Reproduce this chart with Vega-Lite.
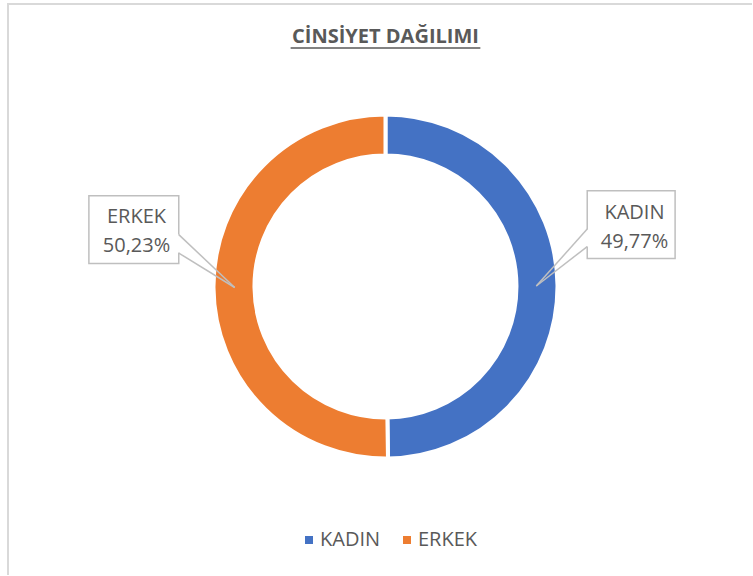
{
  "$schema": "https://vega.github.io/schema/vega-lite/v6.json",
  "width": 753,
  "height": 576,
  "autosize": {"type": "fit", "contains": "padding"},
  "padding": 0,
  "background": "white",
  "config": {
    "view": {"stroke": null},
    "font": "Open Sans",
    "locale": {"number": {"decimal": ",", "thousands": ".", "grouping": [3], "currency": ["₺", ""]}}
  },
  "data": {"values": [
    {"kategori": "KADIN", "oran": 0.4977},
    {"kategori": "ERKEK", "oran": 0.5023}
  ]},
  "layer": [
    {
      "transform": [{"filter": "datum.kategori === 'KADIN'"}],
      "mark": {"type": "rule", "color": "#D9D9D9", "strokeWidth": 2},
      "encoding": {
        "x": {"datum": 8, "type": "quantitative", "scale": {"domain": [0, 753], "zero": false, "nice": false}, "axis": null},
        "y": {"datum": 4, "type": "quantitative", "scale": {"domain": [0, 576], "zero": false, "nice": false, "reverse": true}, "axis": null},
        "y2": {"datum": 576}
      }
    },
    {
      "transform": [{"filter": "datum.kategori === 'KADIN'"}],
      "mark": {"type": "rule", "color": "#D9D9D9", "strokeWidth": 2},
      "encoding": {
        "x": {"datum": 7, "type": "quantitative"},
        "x2": {"datum": 753},
        "y": {"datum": 4, "type": "quantitative"}
      }
    },
    {
      "transform": [{"filter": "datum.kategori === 'KADIN'"}],
      "mark": {"type": "text", "text": "CİNSİYET DAĞILIMI", "font": "Open Sans", "fontWeight": "bold", "fontSize": 20, "color": "#595959", "align": "center", "baseline": "alphabetic"},
      "encoding": {
        "x": {"datum": 386, "type": "quantitative"},
        "y": {"datum": 43.5, "type": "quantitative"}
      }
    },
    {
      "transform": [{"filter": "datum.kategori === 'KADIN'"}],
      "mark": {"type": "rule", "color": "#595959", "strokeWidth": 1.5},
      "encoding": {
        "x": {"datum": 291, "type": "quantitative"},
        "x2": {"datum": 481},
        "y": {"datum": 48, "type": "quantitative"}
      }
    },
    {
      "mark": {"type": "arc", "outerRadius": 172, "innerRadius": 131, "stroke": "white", "strokeWidth": 4},
      "encoding": {
        "x": {"datum": 386, "type": "quantitative"},
        "y": {"datum": 287, "type": "quantitative"},
        "theta": {"field": "oran", "type": "quantitative", "stack": true},
        "order": {"field": "kategori", "sort": "descending"},
        "color": {
          "field": "kategori", "type": "nominal",
          "scale": {"domain": ["KADIN", "ERKEK"], "range": ["#4472C4", "#ED7D31"]},
          "legend": {
            "orient": "none", "legendX": 299, "legendY": 530, "direction": "horizontal",
            "title": null, "symbolType": "square", "symbolSize": 64, "symbolStrokeWidth": 0,
            "labelFont": "Open Sans", "labelFontSize": 20, "labelColor": "#595959",
            "labelOffset": 1, "columnPadding": 16
          }
        }
      }
    },
    {
      "transform": [{"filter": "datum.kategori === 'KADIN'"}],
      "mark": {"type": "rect", "fill": "white", "stroke": "#BFBFBF", "strokeWidth": 1.5},
      "encoding": {
        "x": {"datum": 588, "type": "quantitative"},
        "x2": {"datum": 676},
        "y": {"datum": 191, "type": "quantitative"},
        "y2": {"datum": 259}
      }
    },
    {
      "transform": [{"filter": "datum.kategori === 'ERKEK'"}],
      "mark": {"type": "rect", "fill": "white", "stroke": "#BFBFBF", "strokeWidth": 1.5},
      "encoding": {
        "x": {"datum": 89, "type": "quantitative"},
        "x2": {"datum": 179},
        "y": {"datum": 196, "type": "quantitative"},
        "y2": {"datum": 264}
      }
    },
    {
      "transform": [{"filter": "datum.kategori === 'KADIN'"}],
      "mark": {"type": "rule", "color": "white", "strokeWidth": 3},
      "encoding": {
        "x": {"datum": 588, "type": "quantitative"},
        "y": {"datum": 230, "type": "quantitative"},
        "y2": {"datum": 247}
      }
    },
    {
      "transform": [{"filter": "datum.kategori === 'ERKEK'"}],
      "mark": {"type": "rule", "color": "white", "strokeWidth": 3},
      "encoding": {
        "x": {"datum": 179, "type": "quantitative"},
        "y": {"datum": 235, "type": "quantitative"},
        "y2": {"datum": 253}
      }
    },
    {
      "transform": [{"filter": "datum.kategori === 'KADIN'"}],
      "mark": {"type": "rule", "color": "#BFBFBF", "strokeWidth": 1.5},
      "encoding": {
        "x": {"datum": 588, "type": "quantitative"},
        "y": {"datum": 229.5, "type": "quantitative"},
        "x2": {"datum": 537},
        "y2": {"datum": 286.5}
      }
    },
    {
      "transform": [{"filter": "datum.kategori === 'KADIN'"}],
      "mark": {"type": "rule", "color": "#BFBFBF", "strokeWidth": 1.5},
      "encoding": {
        "x": {"datum": 588, "type": "quantitative"},
        "y": {"datum": 247, "type": "quantitative"},
        "x2": {"datum": 537},
        "y2": {"datum": 286.5}
      }
    },
    {
      "transform": [{"filter": "datum.kategori === 'ERKEK'"}],
      "mark": {"type": "rule", "color": "#BFBFBF", "strokeWidth": 1.5},
      "encoding": {
        "x": {"datum": 179, "type": "quantitative"},
        "y": {"datum": 235, "type": "quantitative"},
        "x2": {"datum": 235},
        "y2": {"datum": 288}
      }
    },
    {
      "transform": [{"filter": "datum.kategori === 'ERKEK'"}],
      "mark": {"type": "rule", "color": "#BFBFBF", "strokeWidth": 1.5},
      "encoding": {
        "x": {"datum": 179, "type": "quantitative"},
        "y": {"datum": 253.5, "type": "quantitative"},
        "x2": {"datum": 235},
        "y2": {"datum": 288}
      }
    },
    {
      "mark": {"type": "text", "radius": 249, "dy": -65.5, "font": "Open Sans", "fontSize": 20, "color": "#595959", "align": "center", "baseline": "alphabetic"},
      "encoding": {
        "x": {"datum": 386, "type": "quantitative"},
        "y": {"datum": 287, "type": "quantitative"},
        "theta": {"field": "oran", "type": "quantitative", "stack": true},
        "order": {"field": "kategori", "sort": "descending"},
        "detail": {"field": "kategori", "type": "nominal"},
        "text": {"field": "kategori", "type": "nominal"}
      }
    },
    {
      "mark": {"type": "text", "radius": 249, "dy": -36.5, "font": "Open Sans", "fontSize": 20, "color": "#595959", "align": "center", "baseline": "alphabetic"},
      "encoding": {
        "x": {"datum": 386, "type": "quantitative"},
        "y": {"datum": 287, "type": "quantitative"},
        "theta": {"field": "oran", "type": "quantitative", "stack": true},
        "order": {"field": "kategori", "sort": "descending"},
        "detail": {"field": "kategori", "type": "nominal"},
        "text": {"field": "oran", "type": "quantitative", "format": ".2%"}
      }
    }
  ]
}
